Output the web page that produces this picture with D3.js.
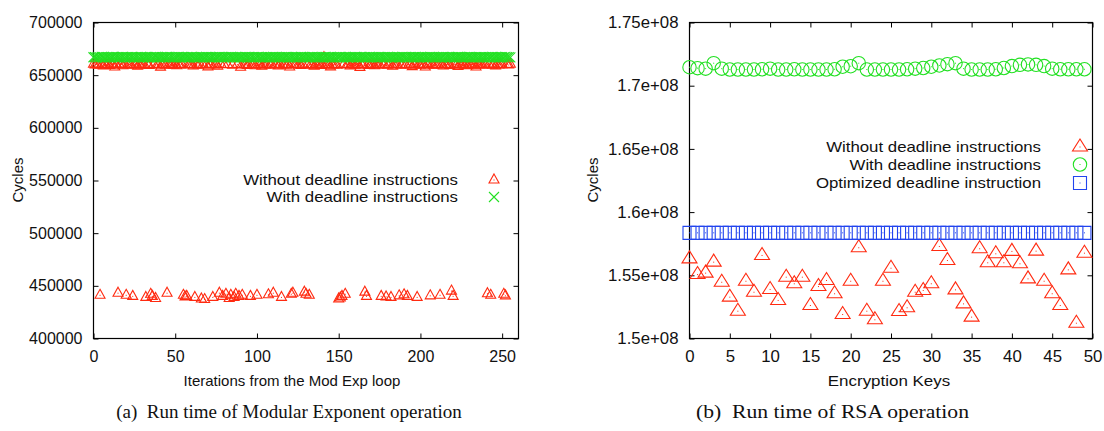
<!DOCTYPE html>
<html><head><meta charset="utf-8">
<script src="https://cdn.jsdelivr.net/npm/d3@7"></script>
<style>
html,body{margin:0;padding:0;background:#fff;}
svg{display:block;}
text{font-family:"Liberation Sans",Arial,Helvetica,sans-serif;fill:#111;}
.cap{font-family:"Liberation Serif","Times New Roman",serif;}
</style></head>
<body>
<svg id="chart" width="1104" height="431"></svg>
<script>
// ---------- Panel (a): Modular exponent iterations ----------
const modWithout = [
660500,659800,660200,659500,441000,660000,658800,660300,659600,660100,659200,660400,659900,657800,660000,443000,
659700,660200,659000,660500,441000,659800,660100,659400,440000,660300,659900,658600,660000,659500,660200,659800,
439000,660100,659300,442000,440000,660400,438000,659700,660000,657600,659900,660300,659500,443000,660100,659800,
660200,659400,660000,658900,660300,659700,660100,441000,439500,440000,659600,660200,659900,658700,439000,660000,
659500,660300,437500,659800,437000,660100,657900,659700,660200,439000,659600,660000,658500,443000,660300,440000,
659900,442000,660100,438000,441000,659500,439000,442000,660200,440000,657500,441000,659800,660000,659300,660400,
440000,659700,660100,659000,441000,660300,659600,658400,660000,659800,660200,441500,659500,660100,443000,659900,
660300,658800,660000,439000,659700,660200,659400,660100,657700,442000,443000,659900,660300,659600,660000,659200,
660400,444000,442000,659800,441000,660100,659500,658600,660200,659900,660000,659300,660300,666600,659700,660100,
659600,657900,660000,659800,660200,659400,437500,438500,440000,660100,442000,659700,660300,658700,659900,660000,
659500,660200,659800,657400,660100,659600,444000,440000,660000,659300,660300,659900,658900,660200,659700,660000,
440000,659800,660100,439500,659500,660300,439000,658600,660000,659900,660200,440500,659400,660100,441500,659700,
440000,660300,659600,658100,660000,659800,439000,660200,659500,660100,659900,657800,660300,659700,440500,660000,
659400,660200,659800,660100,441000,659600,658700,660300,659900,660000,659300,445000,440000,660200,659700,658300,
660100,659800,660400,659500,660000,658900,660200,659700,660100,659400,657700,660300,659900,660000,659600,660200,
659800,442500,660100,441000,659500,660300,658800,660000,659700,660200,659900,442000,440500,660100,659600,660400
];
const modWith = [
667000,667200,666800,667100,666900,667300,667000,666700,667100,667200,666900,667000,667300,666800,667100,667000,
666900,667100,667300,666800,667000,667200,666900,667100,667000,666800,667200,667100,666900,667300,667000,666800,
667100,667000,666800,667200,666900,667100,667300,667000,666800,667100,667200,666900,667000,667300,666800,667100,
667200,666900,667000,667100,667300,666800,667000,667200,666900,667100,667000,666800,667300,667100,666900,667000,
666800,667100,667200,667000,666900,667300,667100,666800,667000,667200,666900,667100,667000,667300,666800,667100,
667000,667200,666900,667100,667300,667000,666800,667100,667200,666900,667000,667100,666800,667300,667000,667200,
666900,667100,667000,666800,667200,667300,666900,667100,667000,666800,667200,667000,667100,666900,667300,667000,
667100,666800,667000,667200,666900,667100,667300,667000,666800,667100,667200,666900,667000,667100,666800,667300,
667000,667200,666900,667100,667000,666800,667300,667100,666900,667000,667200,667100,666800,667000,667300,666900,
667100,667000,666800,667200,666900,667100,667000,667300,666800,667100,667200,666900,667000,667100,666800,667200,
667300,667000,666900,667100,667200,666800,667000,667100,666900,667300,667000,667200,666800,667100,667000,666900,
667100,667200,667000,666800,667300,667100,666900,667000,667200,666800,667100,667000,666900,667300,667100,667000,
666800,667100,667200,666900,667000,667300,666800,667100,667000,667200,666900,667100,667000,666800,667300,667100,
667000,666900,667200,667100,666800,667000,667300,666900,667100,667200,667000,666800,667100,666900,667000,667300,
667100,667000,666800,667200,666900,667100,667300,667000,666800,667100,667200,666900,667000,667100,666800,667000,
667200,666900,667100,667000,667300,666800,667100,667200,666900,667000,667100,666800,667300,667000,667100,666900
];
const modXTicks = [0, 50, 100, 150, 200, 250];
const modYTicks = [400000, 450000, 500000, 550000, 600000, 650000, 700000];
const modYTickLabels = ["400000","450000","500000","550000","600000","650000","700000"];

// ---------- Panel (b): RSA over encryption keys ----------
const rsaKeys = [0,1,2,3,4,5,6,7,8,9,10,11,12,13,14,15,16,17,18,19,20,21,22,23,24,25,26,27,28,29,30,31,32,33,34,35,36,37,38,39,40,41,42,43,44,45,46,47,48,49];
const rsaWithout = [
1.5630e8,1.5506e8,1.5517e8,1.5604e8,1.5445e8,1.5327e8,1.5216e8,1.5453e8,1.5366e8,1.5657e8,
1.5388e8,1.5301e8,1.5485e8,1.5433e8,1.5485e8,1.5261e8,1.5411e8,1.5459e8,1.5354e8,1.5190e8,
1.5453e8,1.5718e8,1.5216e8,1.5148e8,1.5453e8,1.5556e8,1.5214e8,1.5243e8,1.5366e8,1.5380e8,
1.5433e8,1.5728e8,1.5617e8,1.5385e8,1.5274e8,1.5169e8,1.5710e8,1.5599e8,1.5670e8,1.5599e8,
1.5689e8,1.5591e8,1.5472e8,1.5691e8,1.5453e8,1.5354e8,1.5261e8,1.5543e8,1.5121e8,1.5675e8
];
const rsaWith = [
1.7146e8,1.7139e8,1.7135e8,1.7178e8,1.7135e8,1.7128e8,1.7128e8,1.7128e8,1.7128e8,1.7130e8,
1.7135e8,1.7128e8,1.7128e8,1.7130e8,1.7128e8,1.7128e8,1.7128e8,1.7128e8,1.7130e8,1.7150e8,
1.7154e8,1.7178e8,1.7128e8,1.7128e8,1.7128e8,1.7128e8,1.7128e8,1.7130e8,1.7135e8,1.7140e8,
1.7150e8,1.7160e8,1.7170e8,1.7178e8,1.7135e8,1.7128e8,1.7128e8,1.7128e8,1.7130e8,1.7140e8,
1.7155e8,1.7165e8,1.7168e8,1.7165e8,1.7155e8,1.7135e8,1.7130e8,1.7130e8,1.7130e8,1.7130e8
];
const rsaOptimized = [
1.5836e8,1.5836e8,1.5836e8,1.5836e8,1.5836e8,1.5836e8,1.5836e8,1.5836e8,1.5836e8,1.5836e8,
1.5836e8,1.5836e8,1.5836e8,1.5836e8,1.5836e8,1.5836e8,1.5836e8,1.5836e8,1.5836e8,1.5836e8,
1.5836e8,1.5836e8,1.5836e8,1.5836e8,1.5836e8,1.5836e8,1.5836e8,1.5836e8,1.5836e8,1.5836e8,
1.5836e8,1.5836e8,1.5836e8,1.5836e8,1.5836e8,1.5836e8,1.5836e8,1.5836e8,1.5836e8,1.5836e8,
1.5836e8,1.5836e8,1.5836e8,1.5836e8,1.5836e8,1.5836e8,1.5836e8,1.5836e8,1.5836e8,1.5836e8
];
const rsaXTicks = [0,5,10,15,20,25,30,35,40,45,50];
const rsaYTicks = [1.5e8, 1.55e8, 1.6e8, 1.65e8, 1.7e8, 1.75e8];
const rsaYTickLabels = ["1.5e+08","1.55e+08","1.6e+08","1.65e+08","1.7e+08","1.75e+08"];

const legendA = ["Without deadline instructions", "With deadline instructions"];
const legendB = ["Without deadline instructions", "With deadline instructions", "Optimized deadline instruction"];
const xTitleA = "Iterations from the Mod Exp loop";
const xTitleB = "Encryption Keys";
const yTitle = "Cycles";
const captionA = "(a)  Run time of Modular Exponent operation";
const captionB = "(b)  Run time of RSA operation";

// ---------- drawing ----------
const RED = "#ff2a10", GREEN = "#22e022", BLUE = "#2244ee";
const svg = d3.select("#chart");

function triPath(w, h){ return `M0,${-2*h/3}L${w/2},${h/3}L${-w/2},${h/3}Z`; }
function crossPath(s){ const a=s/2; return `M${-a},${-a}L${a},${a}M${-a},${a}L${a},${-a}`; }
function sqPath(s){ const a=s/2; return `M${-a},${-a}H${a}V${a}H${-a}Z`; }

// text placed at (x,y) with a horizontal stretch sx
function stext(g, x, y, str, size, anchor, sx, cls){
  const t = g.append("text").attr("transform",`translate(${x},${y}) scale(${sx},1)`)
    .attr("text-anchor",anchor).attr("font-size",size).text(str);
  if (cls) t.attr("class",cls).attr("fill","#000");
  return t;
}

function panel(cfg){
  const g = svg.append("g");
  const x = d3.scaleLinear().domain(cfg.xDomain).range([cfg.left, cfg.right]);
  const y = d3.scaleLinear().domain(cfg.yDomain).range([cfg.bottom, cfg.top]);
  const fmt = d => cfg.yLabels[cfg.yTicks.indexOf(d)];
  const tick = 5;
  const axL = g.append("g").attr("transform",`translate(${cfg.left},0)`)
    .call(d3.axisLeft(y).tickValues(cfg.yTicks).tickFormat(fmt).tickSize(-tick).tickPadding(11));
  const axR = g.append("g").attr("transform",`translate(${cfg.right},0)`)
    .call(d3.axisRight(y).tickValues(cfg.yTicks).tickFormat("").tickSize(-tick));
  const axB = g.append("g").attr("transform",`translate(0,${cfg.bottom})`)
    .call(d3.axisBottom(x).tickValues(cfg.xTicks).tickFormat(d3.format("d")).tickSize(-tick).tickPadding(12));
  const axT = g.append("g").attr("transform",`translate(0,${cfg.top})`)
    .call(d3.axisTop(x).tickValues(cfg.xTicks).tickFormat("").tickSize(-tick));
  [axL,axR,axB,axT].forEach(a=>{
    a.select(".domain").remove();
    a.selectAll("line").attr("stroke","#000").attr("stroke-width",1);
    a.selectAll("text").attr("font-size",cfg.tickFont).attr("fill","#111")
     .attr("font-family",'"Liberation Sans",Arial,sans-serif');
  });
  // horizontal stretch of tick labels about their anchor
  [axL,axB].forEach(a=>{
    a.selectAll("text").each(function(){
      const t = d3.select(this);
      const tx = +t.attr("x") || 0, ty = +t.attr("y") || 0;
      t.attr("x",0).attr("y",0).attr("transform",`translate(${tx},${ty}) scale(${cfg.tickSX},1)`);
    });
  });
  g.append("rect").attr("x",cfg.left).attr("y",cfg.top)
    .attr("width",cfg.right-cfg.left).attr("height",cfg.bottom-cfg.top)
    .attr("fill","none").attr("stroke","#000").attr("stroke-width",1.2);

  // series
  cfg.series.forEach(s=>{
    const pts = g.append("g");
    s.values.forEach((v,i)=>{
      const px = x(cfg.xs[i]), py = y(v);
      const m = pts.append("g").attr("transform",`translate(${px},${py})`);
      m.append("path").attr("d",s.path).attr("fill","none").attr("stroke",s.color).attr("stroke-width",s.sw||1.1);
      if (s.dot) m.append("rect").attr("x",-0.5).attr("y",-0.5).attr("width",1).attr("height",1).attr("fill",s.color);
    });
  });

  // legend
  cfg.legend.forEach((l,i)=>{
    const ly = cfg.legendY[i];
    stext(g, cfg.legendTextX, ly + 5, l, cfg.legendFont, "end", cfg.legendSX);
    const s = cfg.series[i];
    const m = g.append("g").attr("transform",`translate(${cfg.legendMarkX},${ly})`);
    m.append("path").attr("d",s.path).attr("fill","none").attr("stroke",s.color).attr("stroke-width",s.sw||1.1);
    if (s.dot) m.append("rect").attr("x",-0.5).attr("y",-0.5).attr("width",1).attr("height",1).attr("fill",s.color);
  });

  // titles
  stext(g, cfg.xTitleX, 386, cfg.xTitle, 15, "middle", cfg.titleSX);
  g.append("text").attr("transform",`translate(${cfg.yTitleX},180) rotate(-90)`).attr("text-anchor","middle")
    .attr("dy","0.35em").attr("font-size",15).text(yTitle);
  stext(g, cfg.capX, 418, cfg.caption, 19, "middle", cfg.capSX, "cap").style("white-space","pre");
}

panel({
  xDomain:[0,260], yDomain:[400000,700000], left:93.5, right:518.5, top:22.5, bottom:338.5,
  xTicks:modXTicks, yTicks:modYTicks, yLabels:modYTickLabels, tickFont:16, tickSX:1.0,
  xs: d3.range(modWithout.length),
  series:[
    {values:modWithout, color:RED, path:triPath(10,9), dot:true},
    {values:modWith, color:GREEN, path:crossPath(10)}
  ],
  legend:legendA, legendY:[180,197], legendTextX:458, legendMarkX:494, legendFont:14.5, legendSX:1.16,
  xTitle:xTitleA, xTitleX:292, titleSX:1.0, yTitleX:18, caption:captionA, capX:289, capSX:1.0
});

panel({
  xDomain:[0,50], yDomain:[1.5e8,1.75e8], left:689.5, right:1092.5, top:22.5, bottom:338.5,
  xTicks:rsaXTicks, yTicks:rsaYTicks, yLabels:rsaYTickLabels, tickFont:16, tickSX:1.05,
  xs: rsaKeys,
  series:[
    {values:rsaWithout, color:RED, path:triPath(15,12), dot:true},
    {values:rsaWith, color:GREEN, path:d3.symbol(d3.symbolCircle, Math.PI*6.7*6.7)(), dot:true},
    {values:rsaOptimized, color:BLUE, path:sqPath(13), dot:true}
  ],
  legend:legendB, legendY:[147,164.5,183], legendTextX:1041, legendMarkX:1080, legendFont:14.5, legendSX:1.16,
  xTitle:xTitleB, xTitleX:889, titleSX:1.13, yTitleX:593, caption:captionB, capX:832.5, capSX:1.14
});
</script>
</body></html>
